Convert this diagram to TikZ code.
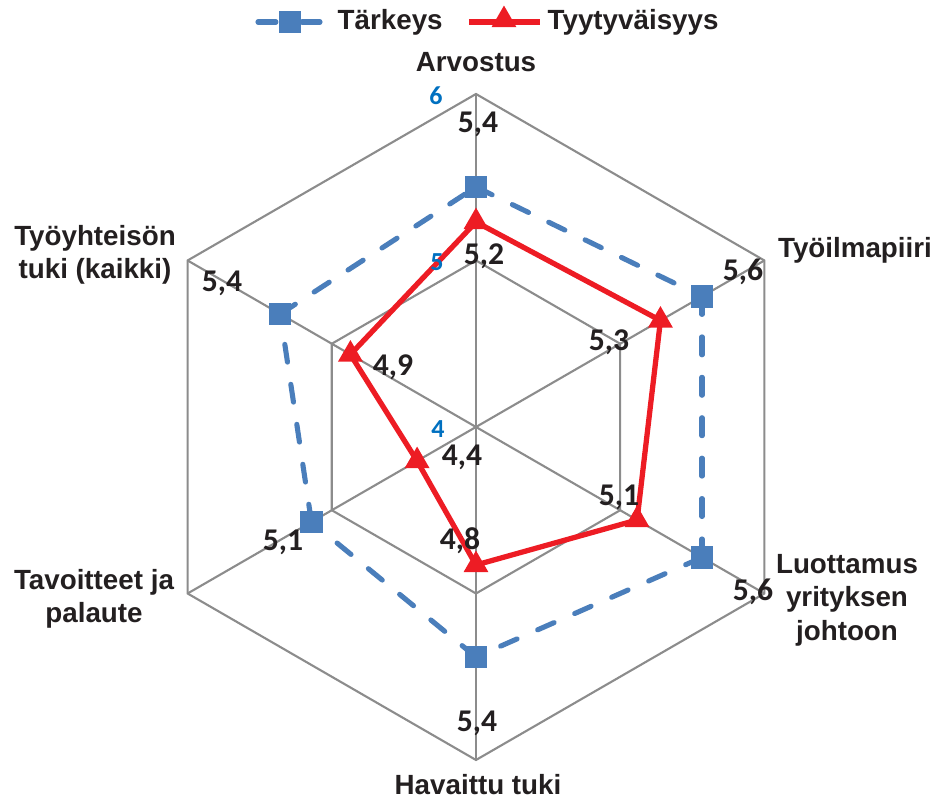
\documentclass[tikz,border=0pt]{standalone}
\usepackage{fontspec}
\setmainfont{Liberation Sans}
\newfontfamily\numfont{Carlito}
\usetikzlibrary{shapes.geometric}

\definecolor{gridgray}{RGB}{140,140,140}
\definecolor{tblue}{RGB}{74,126,187}
\definecolor{sred}{RGB}{237,28,36}
\definecolor{axblue}{RGB}{0,112,192}
\definecolor{txt}{RGB}{35,31,32}

\tikzset{
  gridline/.style={draw=gridgray, line width=0.6pt},
  tline/.style={draw=tblue, line width=1.45pt, dash pattern=on 5.1pt off 6.4pt, line cap=round},
  sline/.style={draw=sred, line width=1.5pt, line join=round},
  tmark/.style={rectangle, fill=tblue, minimum size=6.3pt, inner sep=0pt},
  smark/.style={regular polygon, regular polygon sides=3, fill=sred, minimum size=8.2pt, inner sep=0pt},
  catlab/.style={font=\bfseries\fontsize{7.9}{9.5}\selectfont, text=txt, inner sep=0pt, align=center},
  vallab/.style={font=\numfont\bfseries\fontsize{9}{10}\selectfont, text=txt, inner sep=0pt},
  axlab/.style={font=\numfont\bfseries\fontsize{7.4}{8}\selectfont, text=axblue, inner sep=0pt},
}

\begin{document}
\begin{tikzpicture}
  \useasboundingbox (-4.76,-3.76) rectangle (4.61,4.27);

  % grid
  \coordinate (o) at (0,0);
  \draw[gridline] (90:1.665) -- (30:1.665) -- (-30:1.665) -- (-90:1.665) -- (-150:1.665) -- (150:1.665) -- cycle;
  \draw[gridline] (90:3.33) -- (30:3.33) -- (-30:3.33) -- (-90:3.33) -- (-150:3.33) -- (150:3.33) -- cycle;
  \foreach \a in {90,30,-30,-90,-150,150}
    \draw[gridline] (o) -- (\a:3.33);

  % Tärkeys
  \coordinate (t1) at (90:2.40);
  \coordinate (t2) at (30:2.61);
  \coordinate (t3) at (-30:2.61);
  \coordinate (t4) at (-90:2.30);
  \coordinate (t5) at (-150:1.90);
  \coordinate (t6) at (150:2.26);
  \foreach \p/\q in {t1/t2,t2/t3,t3/t4,t4/t5,t5/t6,t6/t1}
    \draw[tline] (\p) -- (\q);
  \foreach \p in {t1,t2,t3,t4,t5,t6}
    \node[tmark] at (\p) {};

  % Tyytyväisyys
  \coordinate (s1) at (90:2.05);
  \coordinate (s2) at (30:2.13);
  \coordinate (s3) at (-30:1.86);
  \coordinate (s4) at (-90:1.38);
  \coordinate (s5) at (-150:0.68);
  \coordinate (s6) at (150:1.45);
  \draw[sline] (s1) -- (s2) -- (s3) -- (s4) -- (s5) -- (s6) -- cycle;
  \foreach \p in {s1,s2,s3,s4,s5,s6}
    \node[smark] at (\p) {};

  % axis values
  \node[axlab] (ax6) at (-0.40,3.31) {6};
  \node[axlab] (ax5) at (-0.39,1.65) {5};
  \node[axlab] (ax4) at (-0.38,-0.02) {4};

  % value labels
  \node[vallab] (vt1) at (0.02,3.03) {5,4};
  \node[vallab] (vt2) at (2.67,1.55) {5,6};
  \node[vallab] (vt3) at (2.77,-1.65) {5,6};
  \node[vallab] (vt4) at (0.01,-2.96) {5,4};
  \node[vallab] (vt5) at (-1.93,-1.15) {5,1};
  \node[vallab] (vt6) at (-2.54,1.44) {5,4};
  \node[vallab] (vs1) at (0.08,1.71) {5,2};
  \node[vallab] (vs2) at (1.33,0.85) {5,3};
  \node[vallab] (vs3) at (1.43,-0.70) {5,1};
  \node[vallab] (vs4) at (-0.16,-1.14) {4,8};
  \node[vallab] (vs5) at (-0.14,-0.30) {4,4};
  \node[vallab] (vs6) at (-0.83,0.60) {4,9};

  % categories
  \node[catlab] (arv) at (0,3.65) {Arvostus};
  \node[catlab] (ilm) at (3.79,1.77) {Työilmapiiri};
  \node[catlab] (luo) at (3.71,-1.73) {Luottamus\\yrityksen\\johtoon};
  \node[catlab] (hav) at (0.02,-3.58) {Havaittu tuki};
  \node[catlab] (tav) at (-3.82,-1.72) {Tavoitteet ja\\palaute};
  \node[catlab] (yht) at (-3.81,1.72) {Työyhteisön\\tuki (kaikki)};

  % legend
  \coordinate (lt0) at (-2.18,4.05);
  \coordinate (lt1) at (-1.56,4.05);
  \node[tmark] (ltm) at (-1.86,4.05) {};
  \draw[tline] (lt0) -- (ltm.center);
  \draw[tline] (lt1) -- (ltm.center);
  \node[tmark] at (ltm) {};
  \node[catlab, anchor=west] (ltx) at (-1.39,4.05) {Tärkeys};
  \coordinate (ls0) at (-0.07,4.05);
  \coordinate (ls1) at (0.64,4.05);
  \draw[sline] (ls0) -- (ls1);
  \node[smark] (lsm) at (0.28,4.07) {};
  \node[catlab, anchor=west] (lsx) at (0.71,4.05) {Tyytyväisyys};
\end{tikzpicture}
\end{document}
